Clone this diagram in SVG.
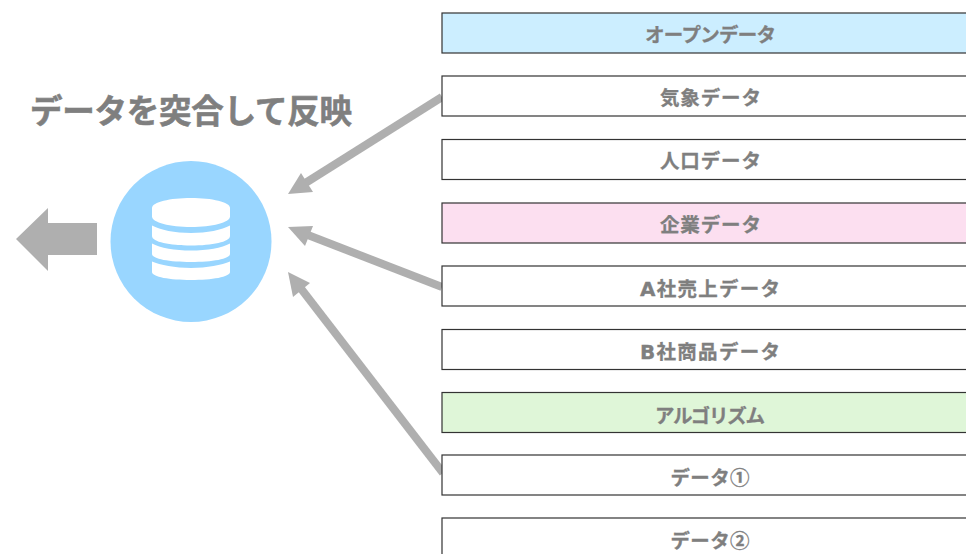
<svg xmlns="http://www.w3.org/2000/svg" width="966" height="554" viewBox="0 0 966 554">
<style>
text{font-family:"Noto Sans CJK JP",sans-serif;font-weight:700;fill:#7f7f7f;stroke:#7f7f7f;stroke-width:.3;text-anchor:middle}
.lat{font-family:"DejaVu Sans",sans-serif;font-size:20px}
.l{font-size:19.5px}
.t{font-size:32.500px;stroke-width:.6}
.b{stroke:#333;stroke-width:1.2}
.c{fill:none;stroke:#afafaf;stroke-width:8}
.h{fill:#afafaf}
.d{fill:#fff}
</style>
<rect width="966" height="554" fill="#fff"/>
<g id="connectors">
<line class="c" x1="442" y1="97" x2="303" y2="184.500"/>
<polygon class="h" points="288,194 301,173 313,192"/>
<line class="c" x1="442" y1="287" x2="304" y2="233.500"/>
<polygon class="h" points="288,227 313,226 305,246"/>
<line class="c" x1="443" y1="473" x2="299" y2="286"/>
<polygon class="h" points="288,272 310,283 293,297"/>
<polygon id="output-arrow" class="h" points="16,239 48,208 48,223 97,223 97,255 48,255 48,271"/>
</g>
<g id="title"><text class="t" x="191" y="123" textLength="322">データを突合して反映</text></g>
<g id="database">
<circle cx="191" cy="241.500" r="80.500" fill="#99d6ff"/>
<path class="d" d="M152 208C152 202 170 198 191 198S230 202 230 208V216.500C230 222.500 212 227 191 227S152 222.500 152 216.500Z"/>
<path class="d" d="M152 225.500C160 230 175 233 191 233S222 230 230 225.500V236C230 242 212 245.500 191 245.500S152 242 152 236Z"/>
<path class="d" d="M152 243.500C160 248 175 250.500 191 250.500S222 248 230 243.500V254C230 259 212 262 191 262S152 259 152 254Z"/>
<path class="d" d="M152 261.500C160 265 175 268 191 268S222 265 230 261.500V272C230 277 212 280 191 280S152 277 152 272Z"/>
</g>
<g id="n1"><rect class="b" x="442" y="13" width="530" height="40" fill="#cceeff"/><text class="l" x="710.500" y="42" textLength="131">オープンデータ</text></g>
<g id="n2"><rect class="b" x="442" y="76" width="530" height="40" fill="#fff"/><text class="l" x="710.500" y="105" textLength="101">気象データ</text></g>
<g id="n3"><rect class="b" x="442" y="139.500" width="530" height="40" fill="#fff"/><text class="l" x="710.500" y="168" textLength="101">人口データ</text></g>
<g id="n4"><rect class="b" x="442" y="203" width="530" height="40" fill="#fcdff0"/><text class="l" x="710.500" y="232" textLength="101">企業データ</text></g>
<g id="n5"><rect class="b" x="442" y="266" width="530" height="40" fill="#fff"/><text class="l" x="710" y="296" textLength="140"><tspan class="lat">A</tspan>社売上データ</text></g>
<g id="n6"><rect class="b" x="442" y="329.500" width="530" height="40" fill="#fff"/><text class="l" x="710" y="359" textLength="140"><tspan class="lat">B</tspan>社商品データ</text></g>
<g id="n7"><rect class="b" x="442" y="392.500" width="530" height="40" fill="#dff6d8"/><text class="l" x="710" y="423" textLength="110">アルゴリズム</text></g>
<g id="n8"><rect class="b" x="442" y="455" width="530" height="40" fill="#fff"/><text class="l" x="710" y="485" textLength="79">データ①</text></g>
<g id="n9"><rect class="b" x="442" y="518" width="530" height="40" fill="#fff"/><text class="l" x="710" y="548" textLength="79">データ②</text></g>
</svg>
